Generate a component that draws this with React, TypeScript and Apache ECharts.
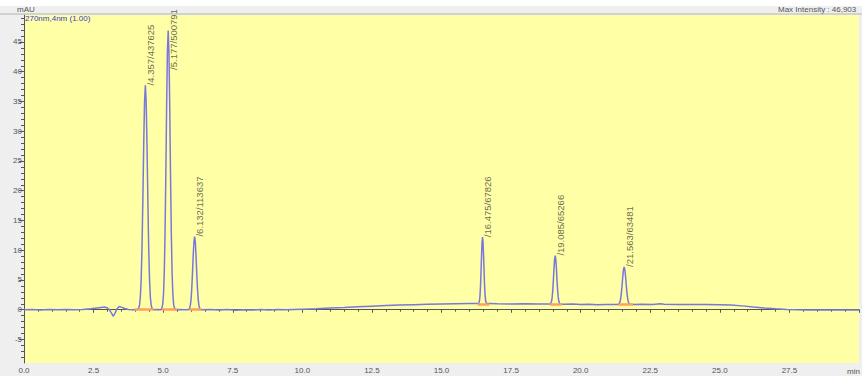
import React, { useEffect, useRef } from "react";
import * as echarts from "echarts";

// Chromatogram trace (time in min, signal in mAU)
const traceTime = [
  0.0, 0.3, 0.6, 0.9, 1.2, 1.5, 1.8, 2.1, 2.4, 2.7, 2.9, 3.0, 3.08, 3.15, 3.2, 3.26, 3.33, 3.42, 3.52, 3.62, 3.75, 3.9, 4.05,
  4.12, 4.15, 4.18, 4.21, 4.24, 4.27, 4.3, 4.33, 4.36, 4.39, 4.42, 4.45, 4.48, 4.51, 4.54, 4.57, 4.6, 4.66,
  4.8, 4.92,
  4.956, 4.984, 5.012, 5.04, 5.068, 5.096, 5.124, 5.152, 5.18, 5.208, 5.236, 5.264, 5.292, 5.32, 5.348, 5.376, 5.404, 5.46,
  5.6, 5.75, 5.88,
  5.922, 5.948, 5.974, 6.0, 6.026, 6.052, 6.078, 6.104, 6.13, 6.156, 6.182, 6.208, 6.234, 6.26, 6.286, 6.312, 6.338, 6.4,
  6.7, 7.0, 7.3, 7.6, 7.9, 8.2, 8.5, 8.8, 9.1, 9.4, 9.7, 10.0, 10.5, 11.0, 11.5, 12.0, 12.5, 13.0, 13.5, 14.0, 14.5, 15.0, 15.5, 16.0, 16.3,
  16.331, 16.349, 16.367, 16.385, 16.403, 16.421, 16.439, 16.457, 16.475, 16.493, 16.511, 16.529, 16.547, 16.565, 16.583, 16.601, 16.619,
  16.7, 17.0, 17.5, 18.0, 18.5, 18.8,
  18.909, 18.931, 18.953, 18.975, 18.997, 19.019, 19.041, 19.063, 19.085, 19.107, 19.129, 19.151, 19.173, 19.195, 19.217, 19.239, 19.261,
  19.4, 19.7, 20.0, 20.3, 20.6, 20.9, 21.2, 21.33,
  21.355, 21.381, 21.407, 21.433, 21.459, 21.485, 21.511, 21.537, 21.563, 21.589, 21.615, 21.641, 21.667, 21.693, 21.719, 21.745, 21.771,
  21.9, 22.2, 22.6, 22.85, 23.0, 23.5, 24.0, 24.5, 25.0, 25.4, 25.8, 26.2, 26.6, 27.0, 27.4, 27.8, 28.2, 28.6, 29.0, 29.5, 30.0,
];
const traceValue = [
  0.0, 0.02, -0.05, 0.03, -0.02, 0.02, 0.0, 0.05, 0.15, 0.35, 0.45, 0.3, -0.1, -0.6, -1.1, -0.7, 0.1, 0.55, 0.4, 0.2, 0.05, 0.0, 0.0,
  0.2, 0.75, 2.1, 5.1, 10.5, 18.4, 27.4, 34.8, 37.7, 34.8, 27.4, 18.4, 10.5, 5.1, 2.1, 0.75, 0.2, 0.0,
  0.02, 0.0,
  0.3, 0.9, 2.6, 6.3, 13.0, 22.8, 34.0, 43.3, 46.9, 43.3, 34.0, 22.8, 13.0, 6.3, 2.6, 0.9, 0.3, 0.0,
  0.02, -0.02, 0.0,
  0.07, 0.24, 0.69, 1.66, 3.42, 5.99, 8.93, 11.35, 12.3, 11.35, 8.93, 5.99, 3.42, 1.66, 0.69, 0.24, 0.07, 0.0,
  0.02, -0.05, 0.03, -0.08, 0.0, -0.05, 0.02, -0.06, 0.03, 0.0, 0.05, 0.1, 0.18, 0.28, 0.38, 0.5, 0.6, 0.7, 0.78, 0.85, 0.92, 0.98, 1.02, 1.05, 1.05,
  1.05, 1.2, 1.6, 2.5, 4.1, 6.5, 9.1, 11.3, 12.2, 11.3, 9.1, 6.5, 4.1, 2.5, 1.6, 1.2, 1.05,
  1.05, 1.0, 0.95, 1.0, 0.95, 0.95,
  0.98, 1.11, 1.41, 2.05, 3.22, 4.92, 6.87, 8.47, 9.1, 8.47, 6.87, 4.92, 3.22, 2.05, 1.41, 1.11, 0.98,
  0.92, 0.95, 0.88, 0.92, 0.85, 0.9, 0.88, 0.9,
  0.92, 1.02, 1.25, 1.75, 2.65, 3.97, 5.47, 6.71, 7.2, 6.71, 5.47, 3.97, 2.65, 1.75, 1.25, 1.02, 0.92,
  0.9, 0.92, 0.9, 1.0, 0.92, 0.9, 0.9, 0.88, 0.85, 0.8, 0.65, 0.45, 0.28, 0.15, 0.06, 0.0, -0.05, -0.05, -0.05, -0.05, -0.05,
];

// Peak retention times, label anchor levels (mAU) and label texts
const peakTime = [4.357, 5.177, 6.132, 16.475, 19.085, 21.563];
const labelLevel = [37.7, 40.3, 12.3, 12.2, 9.1, 7.2];
const peakLabels = ["/4.357/437625", "/5.177/500791", "/6.132/113637", "/16.475/67826", "/19.085/65266", "/21.563/63481"];

// Integration baselines: start, end, level
const baseStart = [3.98, 4.95, 5.94, 16.3, 18.9, 21.35];
const baseEnd = [4.66, 5.5, 6.38, 16.72, 19.32, 21.88];
const baseLevel = [0, 0, 0, 1.0, 0.95, 0.9];

const yMajorTicks = [-5, 0, 5, 10, 15, 20, 25, 30, 35, 40, 45];
const FONT = "Liberation Sans, Arial, sans-serif";

export default function App() {
  const ref = useRef<HTMLDivElement>(null);
  useEffect(() => {
    if (!ref.current) return;
    const chart = echarts.init(ref.current, undefined, { renderer: "svg" });
    const yMinor: number[] = [];
    for (let v = -8; v <= 49; v++) yMinor.push(v);
    const yMin = -8.95;
    const yMax = 49.53;
    chart.setOption({
      animation: false,
      backgroundColor: "#efefef",
      textStyle: { fontFamily: FONT },
      grid: {
        left: 24,
        right: 0,
        top: 15,
        bottom: 13,
        show: true,
        backgroundColor: "#ffffa6",
        borderWidth: 0,
      },
      xAxis: {
        type: "value",
        min: 0,
        max: 30,
        interval: 2.5,
        axisLine: { show: true, lineStyle: { color: "#555", width: 1 } },
        axisTick: { show: true, length: 3, lineStyle: { color: "#555" } },
        minorTick: { show: true, splitNumber: 5, length: 2, lineStyle: { color: "#555" } },
        splitLine: { show: false },
        axisLabel: {
          fontSize: 8,
          color: "#555",
          margin: 3,
          fontFamily: FONT,
          formatter: (v: number) => (v >= 30 ? "" : v.toFixed(1)),
        },
      },
      yAxis: [
        {
          type: "value",
          min: yMin,
          max: yMax,
          axisLine: { show: true, lineStyle: { color: "#555", width: 1 } },
          axisTick: { show: true, length: 5, customValues: yMajorTicks, lineStyle: { color: "#555" } },
          axisLabel: { fontSize: 8, color: "#555", margin: 2, fontFamily: FONT, customValues: yMajorTicks },
          splitLine: { show: false },
        },
        {
          type: "value",
          min: yMin,
          max: yMax,
          position: "left",
          axisLine: { show: false },
          axisTick: { show: true, length: 3, customValues: yMinor, lineStyle: { color: "#555" } },
          axisLabel: { show: false },
          splitLine: { show: false },
        },
      ],
      series: [
        {
          type: "line",
          yAxisIndex: 0,
          data: traceTime.map((t, i) => [t, traceValue[i]]),
          symbol: "none",
          lineStyle: { color: "#7878dc", width: 1.5 },
          z: 3,
          markLine: {
            silent: true,
            symbol: "none",
            label: { show: false },
            lineStyle: { color: "#ffa05c", width: 2.5, type: "solid" },
            data: baseStart.map((s, i) => [
              { coord: [s, baseLevel[i]] },
              { coord: [baseEnd[i], baseLevel[i]] },
            ]),
          },
        },
        {
          type: "scatter",
          yAxisIndex: 0,
          data: peakTime.map((t, i) => [t, labelLevel[i]]),
          symbolSize: 0,
          z: 4,
          label: {
            show: true,
            position: "inside",
            rotate: 90,
            align: "left",
            verticalAlign: "top",
            fontSize: 9.5,
            color: "#44443a",
            fontFamily: FONT,
            formatter: (p: any) => peakLabels[p.dataIndex],
          },
        },
      ],
      graphic: [
        { type: "rect", left: 0, top: 0, shape: { width: 862, height: 6 }, style: { fill: "#ffffff" }, z: 10 },
        { type: "line", shape: { x1: 0, y1: 14, x2: 862, y2: 14 }, style: { stroke: "#b4b4b4", lineWidth: 1 }, z: 10 },
        { type: "text", left: 17, top: 5, style: { text: "mAU", fontSize: 8, fill: "#555", fontFamily: FONT }, z: 10 },
        { type: "text", left: 25, top: 14, style: { text: "270nm,4nm (1.00)", fontSize: 8, fill: "#3a3ad0", fontFamily: FONT }, z: 10 },
        { type: "text", left: 778, top: 5, style: { text: "Max Intensity : 46,903", fontSize: 8, fill: "#555", fontFamily: FONT }, z: 10 },
        { type: "text", left: 847, top: 367, style: { text: "min", fontSize: 8, fill: "#555", fontFamily: FONT }, z: 10 },
      ],
    });
    return () => chart.dispose();
  }, []);
  return (
    <div
      ref={ref}
      style={{ position: "fixed", left: 0, top: 0, width: 862, height: 376 }}
    />
  );
}
